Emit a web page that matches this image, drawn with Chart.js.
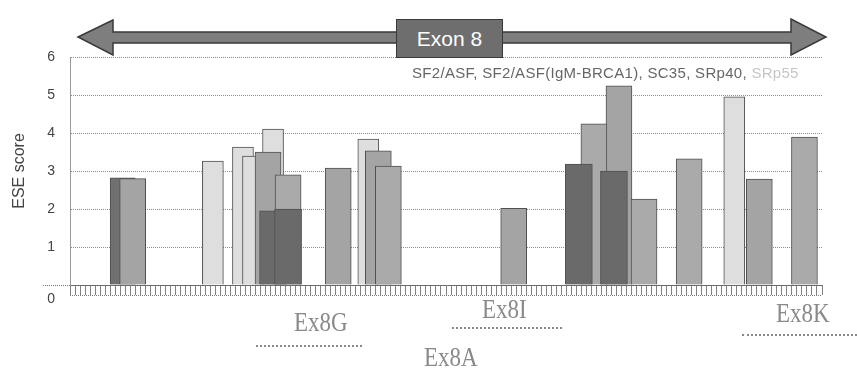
<!DOCTYPE html>
<html>
<head>
<meta charset="utf-8">
<script src="https://cdn.jsdelivr.net/npm/chart.js@4.4.0/dist/chart.umd.min.js"></script>
<style>
  body { margin: 0; background: #fff; }
  #wrap { position: relative; width: 857px; height: 371px; font-family: "Liberation Sans", Arial, sans-serif; }
  #ese { position: absolute; left: 0; top: 0; }
  #arrow { position: absolute; left: 0; top: 0; }
  .exon { position: absolute; left: 396px; top: 19px; width: 105px; height: 37px; background: #6e6e6e;
          border: 1px solid #3a3a3a; color: #fff; font-size: 21px; line-height: 37px; text-align: center; }
  .factors { position: absolute; left: 412px; top: 64px; font-size: 15px; letter-spacing: 0.3px;
             color: #666; white-space: nowrap; }
  .factors span { color: #c6c6c6; }
  .frag { position: absolute; font-family: "Liberation Serif", "DejaVu Serif", serif; font-size: 23px;
          line-height: 23px; color: #8a8a8a; white-space: nowrap; transform: scaleY(1.2); transform-origin: left bottom; }
  .under { position: absolute; height: 0; border-top: 2px dotted #8a8a8a; }
</style>
</head>
<body>
<div id="wrap">
  <canvas id="ese" width="857" height="371"></canvas>
  <svg id="arrow" width="857" height="60">
    <polygon points="78,37 113,20 113,32 791,32 791,19 826,37 791,55 791,43 113,43 113,55"
             fill="#7e7e7e" stroke="#3a3a3a" stroke-width="1.5"/>
  </svg>
  <div class="exon">Exon 8</div>
  <div class="factors">SF2/ASF, SF2/ASF(IgM-BRCA1), SC35, SRp40, <span>SRp55</span></div>
  <div class="frag" style="left:294px; top:313px;">Ex8G</div>
  <div class="under" style="left:256px; top:345px; width:106px;"></div>
  <div class="frag" style="left:482px; top:300px;">Ex8I</div>
  <div class="under" style="left:452px; top:327px; width:110px;"></div>
  <div class="frag" style="left:776px; top:304px;">Ex8K</div>
  <div class="under" style="left:742px; top:334px; width:115px;"></div>
  <div class="frag" style="left:424px; top:348px;">Ex8A</div>
</div>
<script>
// positions along the exon 8 sequence (one category per nucleotide)
const positions = Array.from({ length: 150 }, (_, i) => String(i + 1));

// ESE scores per splicing factor: position -> score
const sf2asfPos = [41, 44, 102, 109];
const sf2asfScore = [1.95, 2.0, 3.18, 3.0];

const igmPos = [11];
const igmScore = [2.82];

const sc35Pos = [13, 40, 54, 62, 89, 110, 138];
const sc35Score = [2.8, 3.5, 3.08, 3.53, 2.02, 5.24, 2.79];

const srp40Pos = [44, 64, 105, 115, 124, 147];
const srp40Score = [2.9, 3.13, 4.24, 2.26, 3.32, 3.89];

const srp55Pos = [29, 35, 37, 41, 60, 133];
const srp55Score = [3.26, 3.63, 3.39, 4.1, 3.84, 4.95];

const yTicks = [0, 1, 2, 3, 4, 5, 6];

function points(pos, score) {
    return pos.map((p, i) => ({ x: String(p), y: score[i] }));
}

// zero line reaches past the axis, and its label sits under the sequence strip
const zeroTick = {
    id: 'zeroTick',
    afterDraw(chart) {
        const { ctx } = chart;
        const y = chart.scales.y;
        const y0 = Math.round(y.getPixelForValue(0)) + 0.5;
        ctx.save();
        ctx.strokeStyle = '#7a7a7a';
        ctx.setLineDash([1, 1]);
        ctx.beginPath();
        ctx.moveTo(43, y0);
        ctx.lineTo(y.right, y0);
        ctx.stroke();
        // lower edge of the sequence strip
        ctx.beginPath();
        ctx.moveTo(y.right, y0 + 10);
        ctx.lineTo(chart.chartArea.right, y0 + 10);
        ctx.stroke();
        ctx.fillStyle = '#444';
        ctx.font = '14px "Liberation Sans", Arial, sans-serif';
        ctx.textAlign = 'right';
        ctx.textBaseline = 'middle';
        ctx.fillText(String(yTicks[0]), 55, y0 + 14);
        ctx.restore();
    }
};

const bar = (label, pos, score, color, width, order) => ({
    label,
    data: points(pos, score),
    backgroundColor: color,
    borderColor: '#505050',
    borderWidth: 1,
    barThickness: width,
    grouped: false,
    order
});

new Chart(document.getElementById('ese'), {
    type: 'bar',
    data: {
        labels: positions,
        datasets: [
            bar('SF2/ASF', sf2asfPos, sf2asfScore, '#6a6a6a', 27, 0),
            bar('SF2/ASF(IgM-BRCA1)', igmPos, igmScore, '#707070', 25, 4),
            bar('SC35', sc35Pos, sc35Score, '#a4a4a4', 26, 2),
            bar('SRp40', srp40Pos, srp40Score, '#aaaaaa', 26, 1),
            bar('SRp55', srp55Pos, srp55Score, '#dedede', 21, 3)
        ]
    },
    options: {
        responsive: false,
        animation: false,
        layout: { padding: { top: 57, right: 35, bottom: 0, left: 0 } },
        plugins: {
            legend: { display: false },
            tooltip: { enabled: false }
        },
        scales: {
            x: {
                ticks: { display: false, autoSkip: false },
                grid: { drawOnChartArea: false, drawTicks: true, tickLength: 10, tickColor: '#808080' },
                border: { display: true, color: '#6a6a6a' },
                afterFit: (s) => { s.height = 86; }
            },
            y: {
                min: 0,
                max: 6,
                afterBuildTicks: (s) => { s.ticks = yTicks.map(v => ({ value: v })); },
                ticks: {
                    padding: 15,
                    color: '#444',
                    font: { size: 14, family: '"Liberation Sans", Arial, sans-serif' },
                    callback: (v) => (v === 0 ? '' : v)
                },
                grid: { drawTicks: false, color: '#8c8c8c' },
                border: { display: true, color: '#9a9a9a', dash: [1, 1] },
                title: {
                    display: true,
                    text: 'ESE score',
                    color: '#444',
                    font: { size: 16, family: '"Liberation Sans", Arial, sans-serif' },
                    padding: { top: 10, bottom: 0 }
                },
                afterFit: (s) => { s.width = 70; }
            }
        }
    },
    plugins: [zeroTick]
});
</script>
</body>
</html>
